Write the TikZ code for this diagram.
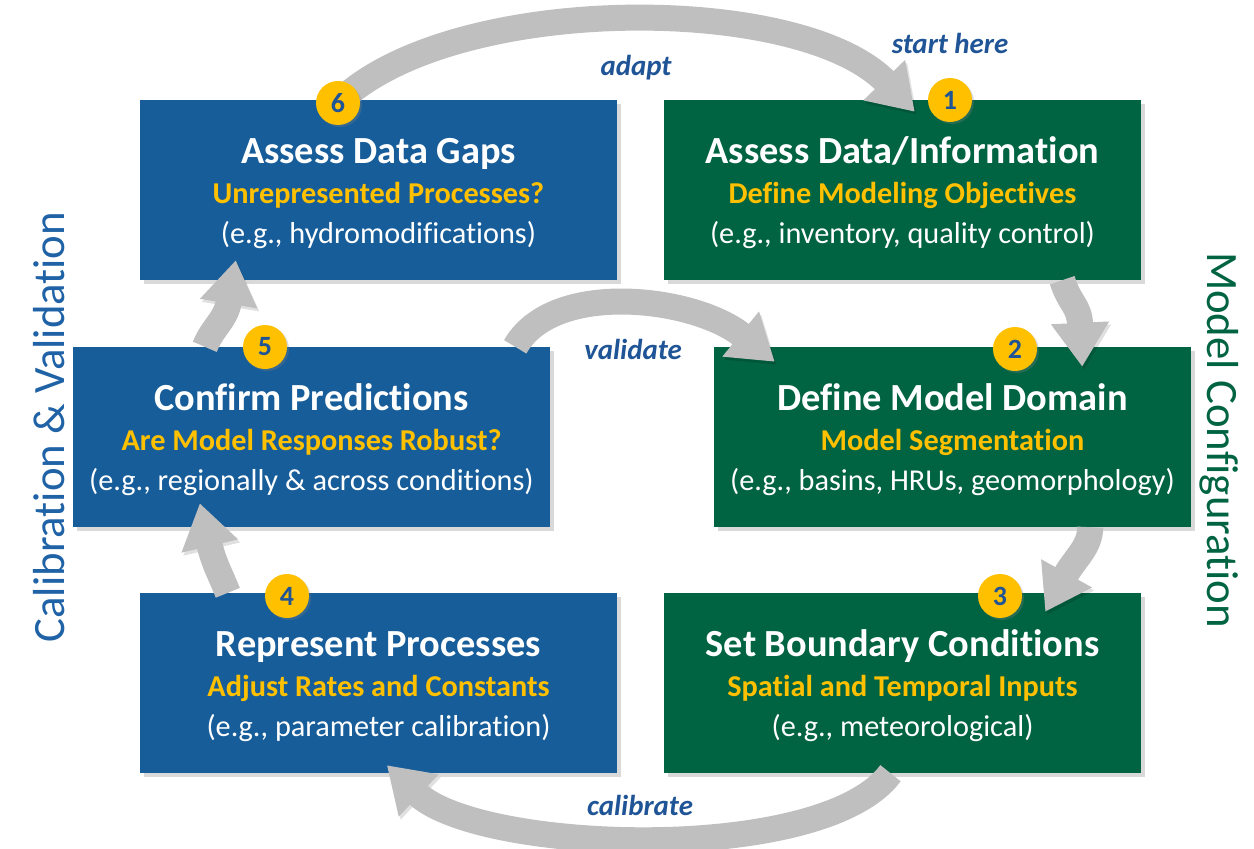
\documentclass[tikz,border=0pt]{standalone}
\usepackage{fontspec}
\setmainfont{Carlito}[Ligatures=NoCommon]
\usetikzlibrary{arrows.meta, calc, shadows}

\definecolor{boxblue}{RGB}{23,93,153}
\definecolor{boxgreen}{RGB}{0,99,65}
\definecolor{badgeyellow}{RGB}{255,192,0}
\definecolor{labelblue}{RGB}{31,84,150}
\definecolor{sideblue}{RGB}{32,98,166}
\definecolor{arrowgray}{RGB}{191,191,191}

\tikzstyle{bluebox} = [
    rectangle,
    minimum width=477bp,
    minimum height=180bp,
    fill=boxblue,
    drop shadow={shadow xshift=4bp, shadow yshift=-4bp, opacity=0.3}
]
\tikzstyle{greenbox} = [
    rectangle,
    minimum width=477bp,
    minimum height=180bp,
    fill=boxgreen,
    drop shadow={shadow xshift=4bp, shadow yshift=-4bp, opacity=0.3}
]
\tikzstyle{boxtitle} = [
    anchor=base,
    text=white,
    font=\bfseries\fontsize{38.5}{40}\selectfont
]
\tikzstyle{boxsub} = [
    anchor=base,
    text=badgeyellow,
    font=\bfseries\fontsize{30.4}{32}\selectfont
]
\tikzstyle{boxeg} = [
    anchor=base,
    text=white,
    font=\fontsize{30.4}{32}\selectfont
]
\tikzstyle{numbadge} = [
    circle,
    minimum size=44bp,
    inner sep=0pt,
    fill=badgeyellow,
    text=labelblue,
    font=\bfseries\fontsize{28}{28}\selectfont,
    drop shadow={shadow xshift=2bp, shadow yshift=-2bp, opacity=0.3}
]
\tikzstyle{looplabel} = [
    text=labelblue,
    font=\bfseries\itshape\fontsize{29}{30}\selectfont
]
\tikzstyle{sidelabel} = [
    anchor=base,
    font=\fontsize{45}{46}\selectfont
]
\tikzstyle{bigarrow} = [
    line width=26bp,
    draw=arrowgray,
    -{Triangle[length=44bp,width=55bp]},
    preaction={draw=black, opacity=0.12, transform canvas={shift={(2bp,-3bp)}}}
]

\begin{document}
\begin{tikzpicture}[x=1bp, y=1bp]

\useasboundingbox (0,0) rectangle (1254,-849);

\node (box6) [bluebox] at (378.5,-190) {};
\node (box1) [greenbox] at (902.5,-190) {};
\node (box5) [bluebox] at (311.5,-437) {};
\node (box2) [greenbox] at (952.5,-437) {};
\node (box4) [bluebox] at (378.5,-683) {};
\node (box3) [greenbox] at (902.5,-683) {};

\node (title1) [boxtitle] at ($(box1)+(0,27)$) {Assess Data/Information};
\node (sub1) [boxsub] at ($(box1)+(0,-13)$) {Define Modeling Objectives};
\node (eg1) [boxeg] at ($(box1)+(0,-53)$) {(e.g., inventory, quality control)};

\node (title2) [boxtitle] at ($(box2)+(0,27)$) {Define Model Domain};
\node (sub2) [boxsub] at ($(box2)+(0,-13)$) {Model Segmentation};
\node (eg2) [boxeg] at ($(box2)+(0,-53)$) {(e.g., basins, HRUs, geomorphology)};

\node (title3) [boxtitle] at ($(box3)+(0,27)$) {Set Boundary Conditions};
\node (sub3) [boxsub] at ($(box3)+(0,-13)$) {Spatial and Temporal Inputs};
\node (eg3) [boxeg] at ($(box3)+(0,-53)$) {(e.g., meteorological)};

\node (title4) [boxtitle] at ($(box4)+(0,27)$) {Represent Processes};
\node (sub4) [boxsub] at ($(box4)+(0,-13)$) {Adjust Rates and Constants};
\node (eg4) [boxeg] at ($(box4)+(0,-53)$) {(e.g., parameter calibration)};

\node (title5) [boxtitle] at ($(box5)+(0,27)$) {Confirm Predictions};
\node (sub5) [boxsub] at ($(box5)+(0,-13)$) {Are Model Responses Robust?};
\node (eg5) [boxeg] at ($(box5)+(0,-53)$) {(e.g., regionally \& across conditions)};

\node (title6) [boxtitle] at ($(box6)+(0,27)$) {Assess Data Gaps};
\node (sub6) [boxsub] at ($(box6)+(0,-13)$) {Unrepresented Processes?};
\node (eg6) [boxeg] at ($(box6)+(0,-53)$) {(e.g., hydromodifications)};

\coordinate (c6start) at (338,-103);

\draw [bigarrow] (c6start) .. controls +(112,110) and +(-115,119) .. ($(box1.north west)+(251,-12)$);
\draw [bigarrow] ($(box1.south east)+(-79,0)$) .. controls +(8,-25) and +(-3,62) .. ($(box2.north east)+(-109,-20)$);
\draw [bigarrow] ($(box2.south east)+(-101,0)$) .. controls +(0,-20) and +(30,54) .. ($(box3.north east)+(-96,-19)$);
\draw [bigarrow] ($(box3.south)+(-12,0)$) .. controls +(-68,-92) and +(93,-88) .. ($(box4.south west)+(247,8)$);
\draw [bigarrow] ($(box4.north west)+(88,0)$) .. controls +(-8,20) and +(14,-60) .. ($(box5.south west)+(127,24)$);
\draw [bigarrow] ($(box5.north west)+(132,0)$) .. controls +(8,20) and +(-10,-60) .. ($(box6.south west)+(96,20)$);
\draw [bigarrow] ($(box5.north east)+(-35,0)$) .. controls +(38,67) and +(-80,65) .. ($(box2.north west)+(61,-15)$);

\node (c1) [numbadge] at (950,-100) {1};
\node (c2) [numbadge] at (1015,-349) {2};
\node (c3) [numbadge] at (1000,-596) {3};
\node (c4) [numbadge] at (287,-596) {4};
\node (c5) [numbadge] at (265,-347) {5};
\node (c6) [numbadge] at (c6start) {6};

\node (start) [looplabel] at (950,-43) {start here};
\node (adapt) [looplabel] at (636,-68) {adapt};
\node (validate) [looplabel] at (633,-349) {validate};
\node (calibrate) [looplabel] at (640,-805) {calibrate};

\node (calval) [sidelabel, text=sideblue, rotate=90] at (64,-427) {Calibration \& Validation};
\node (modconf) [sidelabel, text=boxgreen, rotate=-90] at (1207,-440) {Model Configuration};

\end{tikzpicture}
\end{document}
